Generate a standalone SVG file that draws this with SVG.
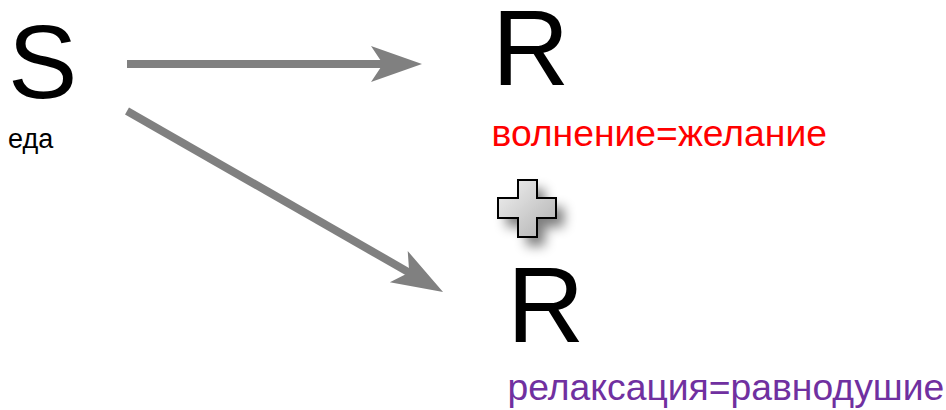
<svg xmlns="http://www.w3.org/2000/svg" width="946" height="410" viewBox="0 0 946 410">
<style>
text{font-family:"Liberation Sans",Arial,sans-serif}
.big{font-size:107px;fill:#000}
.lbl{font-size:37.3px}
.conn{stroke:#808080;stroke-width:8;fill:none;marker-end:url(#ah)}
</style>
<defs>
<marker id="ah" viewBox="0 -20 52 40" markerWidth="52" markerHeight="40" refX="15" refY="0" orient="auto" markerUnits="userSpaceOnUse">
<path d="M51,0 L0,-18 L12,0 L0,18 Z" fill="#808080"/>
</marker>
<linearGradient id="pg" x1="0" y1="0" x2="1" y2="1">
<stop offset="0" stop-color="#f2f2f2"/>
<stop offset="1" stop-color="#b0b0b0"/>
</linearGradient>
<filter id="sh" x="-50%" y="-50%" width="200%" height="200%">
<feGaussianBlur stdDeviation="6"/>
</filter>
</defs>
<g id="connectors">
<line class="conn" x1="127" y1="64" x2="386" y2="64"/>
<line class="conn" x1="127" y1="111" x2="411.8" y2="274.1"/>
</g>
<g id="node-S">
<text class="big" x="8" y="98" style="font-size:104px">S</text>
<text x="8" y="148" style="font-size:27px">еда</text>
</g>
<g id="node-R1">
<text class="big" x="492" y="85">R</text>
<text class="lbl" x="491.5" y="146" fill="#ff0000">волнение=желание</text>
</g>
<g id="plus">
<polygon points="518,180 537,180 537,198 556,198 556,218 537,218 537,237 518,237 518,218 498,218 498,198 518,198" fill="#000" opacity="0.5" filter="url(#sh)" transform="translate(8,9)"/>
<polygon points="518,180 537,180 537,198 556,198 556,218 537,218 537,237 518,237 518,218 498,218 498,198 518,198" fill="url(#pg)" stroke="#000" stroke-width="2"/>
</g>
<g id="node-R2">
<text class="big" x="507" y="342">R</text>
<text class="lbl" x="507.5" y="400" fill="#7030a0">релаксация=равнодушие</text>
</g>
</svg>
